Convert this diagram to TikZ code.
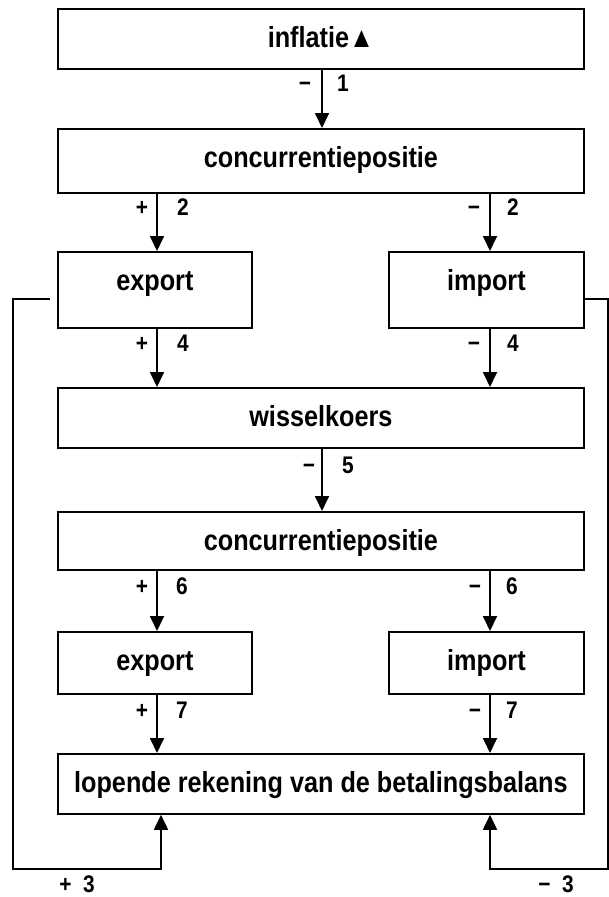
\documentclass[tikz,border=0pt]{standalone}
\usepackage{fontspec}
\setmainfont{Liberation Sans}[FakeStretch=0.87]
\usetikzlibrary{arrows.meta}

\begin{document}
\begin{tikzpicture}[x=1pt, y=-1pt,
    blok/.style={draw, line width=1.8pt, inner sep=0pt, anchor=north west,
        font=\fontsize{29}{34}\selectfont\bfseries,
        minimum width=526pt, text height=39pt, text depth=21pt},
    smal/.style={minimum width=194pt},
    hoog/.style={text depth=37pt},
    cijfer/.style={anchor=base, inner sep=0pt, font=\fontsize{24}{28}\selectfont\bfseries},
    pijl/.style={line width=1.8pt, -{Triangle[width=14pt,length=15pt]}},
    lijn/.style={line width=1.8pt}]
    \useasboundingbox (0,0) rectangle (609,897);

    % blokken
    \node[blok] (inflatie) at (57,8) {inflatie▲};
    \node[blok, text depth=25pt] (conc1) at (57,128) {concurrentiepositie};
    \node[blok, smal, hoog] (export1) at (57,251) {export};
    \node[blok, smal, hoog, minimum width=195pt] (import1) at (388,251) {import};
    \node[blok] (wissel) at (57,387) {wisselkoers};
    \node[blok, text depth=19pt] (conc2) at (57,511) {concurrentiepositie};
    \node[blok, smal, text depth=23pt] (export2) at (57,631) {export};
    \node[blok, smal, text depth=23pt, minimum width=195pt] (import2) at (388,631) {import};
    \node[blok] (lopende) at (57,753) {lopende rekening van de betalingsbalans};

    \coordinate (kolL) at (157,0);
    \coordinate (kolM) at (322,0);
    \coordinate (kolR) at (490,0);
    \coordinate (kolLop) at (161,0);
    \coordinate (terugL) at (13,869);
    \coordinate (terugR) at (608,869);

    % pijlen
    \draw[pijl] (inflatie.south -| kolM) -- (conc1.north -| kolM);
    \draw[pijl] (conc1.south -| kolL) -- (export1.north -| kolL);
    \draw[pijl] (conc1.south -| kolR) -- (import1.north -| kolR);
    \draw[pijl] (export1.south -| kolL) -- (wissel.north -| kolL);
    \draw[pijl] (import1.south -| kolR) -- (wissel.north -| kolR);
    \draw[pijl] (wissel.south -| kolM) -- (conc2.north -| kolM);
    \draw[pijl] (conc2.south -| kolL) -- (export2.north -| kolL);
    \draw[pijl] (conc2.south -| kolR) -- (import2.north -| kolR);
    \draw[pijl] (export2.south -| kolL) -- (lopende.north -| kolL);
    \draw[pijl] (import2.south -| kolR) -- (lopende.north -| kolR);

    % terugkoppeling
    \draw[lijn, pijl] ([xshift=-7pt, yshift=-9pt]export1.west) -| (terugL) -| (lopende.south -| kolLop);
    \draw[lijn, pijl] ([yshift=-9pt]import1.east) -| (terugR) -| (lopende.south -| kolR);

    % tekens
    \foreach \n/\x/\y/\t in {a/305/91/−, b/343/91/1,
        c/142/215/+, d/183/215/2, e/474/215/−, f/513/215/2,
        g/142/351/+, h/183/351/4, i/474/351/−, j/513/351/4,
        k/309/473/−, l/348/473/5,
        m/142/594/+, n/182/594/6, o/475/594/−, p/512/594/6,
        q/142/718/+, r/182/718/7, s/475/718/−, t/512/718/7} {
        \node[cijfer] (teken\n) at (\x,\y) {\t};
    }
    \node[cijfer] (plus3) at (77,892) {+\ \ 3};
    \node[cijfer] (min3) at (556,892) {−\ \ 3};
\end{tikzpicture}
\end{document}
